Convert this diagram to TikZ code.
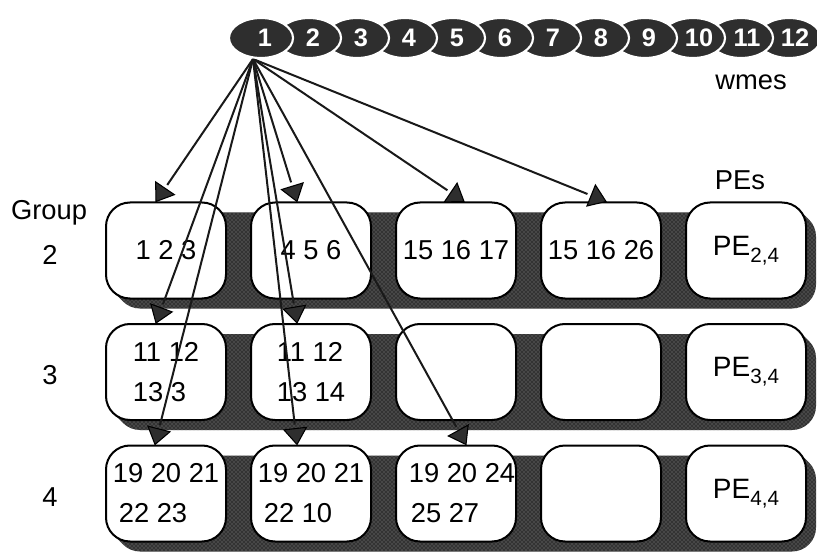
\documentclass[tikz,border=0pt]{standalone}
\usepackage{fontspec}
\setmainfont{Liberation Sans}
\usetikzlibrary{shapes.geometric,patterns,calc}

% processor label with a lowered index
\newcommand\pesub[1]{PE\raisebox{-5.5pt}{\fontsize{15.5}{15.5}\selectfont #1}}

\begin{document}
\begin{tikzpicture}[x=0.75pt,y=-0.75pt,
  wme/.style={ellipse, fill=black!82, draw=white, line width=1.6pt,
    minimum width=48pt, minimum height=30pt, inner sep=0pt},
  wmelab/.style={text=white, font=\fontsize{19}{19}\selectfont\bfseries, inner sep=0pt},
  pebox/.style={draw=black, fill=white, line width=1.5pt, rounded corners=18pt,
    minimum width=90pt, minimum height=72pt, inner sep=0pt, align=left,
    font=\fontsize{20.5}{30}\selectfont},
  pename/.style={font=\fontsize{21}{24}\selectfont},
  band/.style={fill=black!80, postaction={pattern=crosshatch dots, pattern color=black!45}},
  lbl/.style={font=\fontsize{20.5}{24}\selectfont, inner sep=0pt},
  feedline/.style={line width=1.5pt, draw=black!90},
  feedhead/.style={isosceles triangle, isosceles triangle stretches,
    minimum width=17pt, minimum height=12pt, inner sep=0pt, outer sep=0pt,
    fill=black!82, draw=black, line width=0.8pt},
]
\useasboundingbox (0,0) rectangle (817,552);
\clip (0,0) rectangle (817,552);

% ---- row 2 ----
\fill[band, rounded corners=18pt] (116,212.5) rectangle (816,308.5)
  \foreach \i in {0,...,4}{\foreach \t in {0,...,9}{
    (106+145*\i+\t, 202.5+\t) rectangle (226+145*\i+\t, 298.5+\t)}};
\node[pebox] (b21) at (166,250.5) {1 2 3};
\node[pebox] (b22) at (311,250.5) {4 5 6};
\node[pebox] (b23) at (456,250.5) {15 16 17};
\node[pebox] (b24) at (601,250.5) {15 16 26};
\node[pebox, pename] (b25) at (746,250.5) {\pesub{2,4}};

% ---- row 3 ----
\fill[band, rounded corners=18pt] (116,334) rectangle (816,430)
  \foreach \i in {0,...,4}{\foreach \t in {0,...,9}{
    (106+145*\i+\t, 324+\t) rectangle (226+145*\i+\t, 420+\t)}};
\node[pebox] (b31) at (166,372) {11 12\\13 3};
\node[pebox] (b32) at (311,372) {11 12\\13 14};
\node[pebox] (b33) at (456,372) {};
\node[pebox] (b34) at (601,372) {};
\node[pebox, pename] (b35) at (746,372) {\pesub{3,4}};

% ---- row 4 ----
\fill[band, rounded corners=18pt] (116,455.5) rectangle (816,551.5)
  \foreach \i in {0,...,4}{\foreach \t in {0,...,9}{
    (106+145*\i+\t, 445.5+\t) rectangle (226+145*\i+\t, 541.5+\t)}};
\node[pebox] (b41) at (166,493.5) {19 20 21\\\hspace*{4.5pt}22 23};
\node[pebox] (b42) at (311,493.5) {19 20 21\\\hspace*{4.5pt}22 10};
\node[pebox] (b43) at (456,493.5) {\hspace*{9pt}19 20 24\\\hspace*{10.5pt}25 27};
\node[pebox] (b44) at (601,493.5) {};
\node[pebox, pename] (b45) at (746,493.5) {\pesub{4,4}};

% ---- side labels ----
\node[lbl] (grp) at (49,213) {Group};
\node[lbl] (g2) at (50,255) {2};
\node[lbl] (g3) at (50,375) {3};
\node[lbl] (g4) at (50,497) {4};
\node[lbl] (wm) at (751,82) {wmes};
\node[lbl] (pes) at (740,180) {PEs};

% ---- broadcast of word 1: a line and a triangular head node per target ----
\coordinate (src) at (253,59);
\foreach \b/\dx in {b21/51, b31/51, b41/50, b22/47, b32/47, b42/47, b23/69, b43/71, b24/66}{
  \coordinate (t-\b) at ($(\b.north west)+(\dx,0)$);
  \coordinate (h-\b) at ($(t-\b)!15pt!(src)$);
  \draw[feedline] (src) -- (h-\b);
  \path let \p1 = ($(t-\b)-(src)$), \n1 = {atan2(\y1,\x1)} in
    node[feedhead, rotate=\n1, anchor=apex] (a-\b) at (t-\b) {};
}

% ---- memory words, drawn right to left so each overlaps its neighbour ----
\foreach \k in {12,11,...,1}{
  \node[wme] (w\k) at ({261+48*(\k-1)},38) {};
}
\foreach \k in {1,...,9}{
  \node[wmelab] (l\k) at ({265+48*(\k-1)},38) {\k};
}
\foreach \k in {10,11,12}{
  \node[wmelab] (l\k) at ({267+48*(\k-1)},38) {\k};
}
\end{tikzpicture}
\end{document}
